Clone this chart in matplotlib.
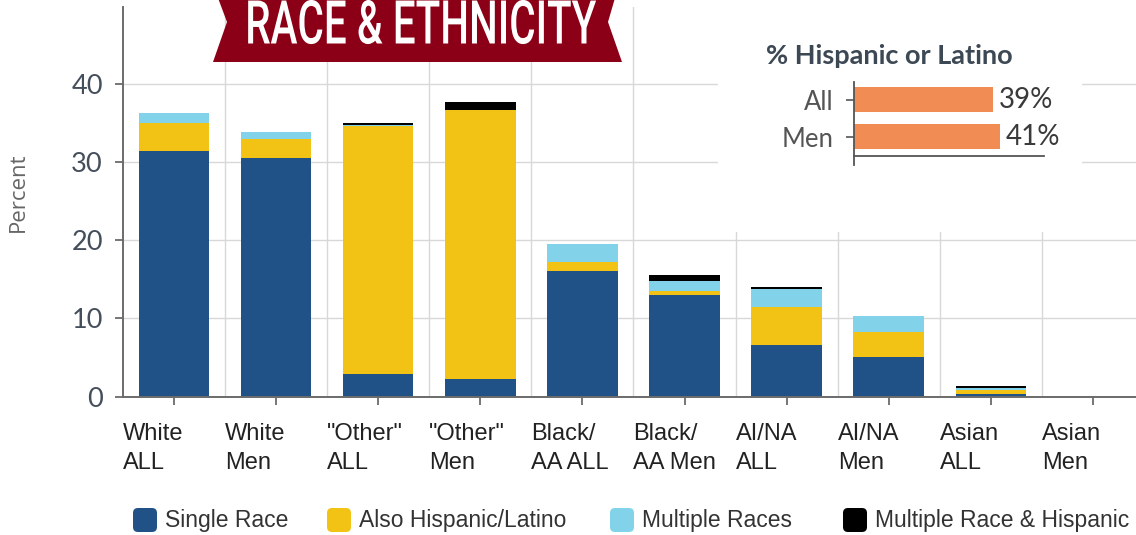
import numpy as np
import matplotlib
matplotlib.use("Agg")
import matplotlib.pyplot as plt
from matplotlib.patches import Polygon, FancyBboxPatch, Rectangle
from matplotlib.patheffects import AbstractPathEffect
from matplotlib.transforms import Affine2D

# ---- data ----
categories = ['White\nALL', 'White\nMen', '"Other"\nALL', '"Other"\nMen',
              'Black/\nAA ALL', 'Black/\nAA Men', 'AI/NA\nALL', 'AI/NA\nMen',
              'Asian\nALL', 'Asian\nMen']
single_race = [31.4, 30.5, 2.9, 2.3, 16.0, 13.0, 6.6, 5.1, 0.4, 0.0]
also_hispanic = [3.6, 2.4, 31.7, 34.4, 1.2, 0.55, 4.9, 3.2, 0.47, 0.0]
multiple_races = [1.3, 0.9, 0.1, 0.0, 2.3, 1.2, 2.2, 2.0, 0.2, 0.0]
multi_hispanic = [0.0, 0.0, 0.3, 1.0, 0.0, 0.8, 0.35, 0.0, 0.3, 0.0]
series_names = ["Single Race", "Also Hispanic/Latino", "Multiple Races",
                "Multiple Race & Hispanic"]
series_colors = ["#215287", "#F2C314", "#82D3EA", "#000000"]

inset_groups = ["All", "Men"]
inset_values = [39, 41]

W, H = 1136, 535


class Squeeze(AbstractPathEffect):
    """Horizontally squeeze glyphs around a display x position."""

    def __init__(self, sx, cx):
        super().__init__()
        self.sx = sx
        self.cx = cx

    def draw_path(self, renderer, gc, tpath, affine, rgbFace=None):
        t = affine + Affine2D().translate(-self.cx, 0).scale(self.sx, 1).translate(self.cx, 0)
        renderer.draw_path(gc, tpath, t, rgbFace)


def fx(px):
    return px / W


def fy(py):
    return 1 - py / H


fig = plt.figure(figsize=(W / 100, H / 100), dpi=100)
fig.set_facecolor("white")

# ---- main stacked bar chart ----
ax = fig.add_axes([fx(123), fy(396.7), 1 - fx(123), fy(7) - fy(396.7)])
ax.set_axisbelow(True)
x = np.arange(len(categories))
bottom = np.zeros(len(categories))
for vals, name, col in zip([single_race, also_hispanic, multiple_races, multi_hispanic],
                           series_names, series_colors):
    ax.bar(x, vals, width=0.69, bottom=bottom, color=col, label=name, zorder=2)
    bottom += np.array(vals)

ax.set_xlim(-0.5, (W - 174) / 102.1)
ax.set_ylim(0, 49.8)
ax.set_yticks([0, 10, 20, 30, 40])
ax.set_xticks(x, labels=[])
ax.set_xticks(x[:-1] + 0.5, minor=True)
ax.yaxis.grid(True, color="#d8d8d8", linewidth=1.0)
ax.xaxis.grid(True, which="minor", color="#d8d8d8", linewidth=1.0)
ax.tick_params(axis="x", which="minor", length=0)
for s in ["top", "right"]:
    ax.spines[s].set_visible(False)
for s in ["left", "bottom"]:
    ax.spines[s].set_color("#6b6b6b")
    ax.spines[s].set_linewidth(1.4)
ax.tick_params(axis="y", length=6, width=1.3, color="#6b6b6b", pad=8.5,
               labelsize=19.5, labelcolor="#454f5c")
ax.tick_params(axis="x", which="major", length=5.5, width=1.3, color="#6b6b6b")
for lab in ax.get_yticklabels():
    lab.set_fontfamily("Lato")

# category labels, left aligned at the band edges
for i, name in enumerate(categories):
    ax.annotate(name, xy=(i - 0.5, 0), xycoords=("data", "axes fraction"),
                xytext=(0, -19), textcoords="offset points", ha="left", va="top",
                fontsize=17, family="Liberation Sans", color="#222222",
                linespacing=1.38, annotation_clip=False)

# white box behind the inset that hides part of the grid
ax.add_patch(Rectangle((fx(718), fy(232)), fx(1082) - fx(718), fy(0) - fy(232),
                       transform=fig.transFigure, facecolor="white",
                       edgecolor="none", zorder=1))

fig.text(fx(18), fy(192), "Percent", rotation=90, ha="center", va="center",
         fontsize=16, family="Open Sans", color="#666666")

# ---- inset: % Hispanic or Latino ----
ax2 = fig.add_axes([fx(854), fy(156), fx(1044) - fx(854), fy(82) - fy(156)])
ax2.patch.set_alpha(0)
yy = np.arange(len(inset_groups))
ax2.barh(yy, inset_values, height=0.667, color="#F28C55")
ax2.set_xlim(0, 53.4)
ax2.set_ylim(1.507, -0.467)
ax2.set_yticks(yy, labels=inset_groups)
ax2.set_xticks([])
for s in ["top", "right"]:
    ax2.spines[s].set_visible(False)
for s in ["left", "bottom"]:
    ax2.spines[s].set_color("#555555")
    ax2.spines[s].set_linewidth(1.3)
ax2.spines["left"].set_bounds(1.75, -0.467)
ax2.tick_params(axis="y", length=6, width=1.2, color="#555555", pad=8.5,
                labelsize=18.5, labelcolor="#555555")
for lab in ax2.get_yticklabels():
    lab.set_fontfamily("Lato")
for yi, v in zip(yy, inset_values):
    ax2.annotate(f"{v}%", xy=(v, yi), xytext=(4.5, 0), textcoords="offset points",
                 ha="left", va="center", fontsize=20, family="Lato",
                 color="#3a3a3a", annotation_clip=False)
fig.text(fx(766), fy(64), "% Hispanic or Latino", ha="left", va="baseline",
         fontsize=19.5, family="Lato", weight="bold", color="#3c4854")

# ---- overlay: banner and legend ----
ov = fig.add_axes([0, 0, 1, 1], zorder=5)
ov.set_xlim(0, W)
ov.set_ylim(H, 0)
ov.set_axis_off()
ov.patch.set_alpha(0)

ov.add_patch(Polygon([(218, -2), (615, -2), (608, 22), (622, 62),
                      (213, 62), (227, 22)], closed=True,
                     facecolor="#8B0016", edgecolor="none"))
ov.text(420.5, 43.5, "RACE & ETHNICITY", ha="center", va="baseline",
        fontsize=43.5, family="Roboto", weight="medium", color="white",
        path_effects=[Squeeze(0.67, 420.5)])

sq_left = [133, 327, 610, 843]
for left, name, col in zip(sq_left, series_names, series_colors):
    ov.add_patch(FancyBboxPatch((left + 3, 511), 18, 18,
                                boxstyle="round,pad=3,rounding_size=5",
                                facecolor=col, edgecolor="none"))
    ov.text(left + 32, 520, name, ha="left", va="center", fontsize=16.5,
            family="Liberation Sans", color="#333333")

fig.savefig("out.png", dpi=100)
